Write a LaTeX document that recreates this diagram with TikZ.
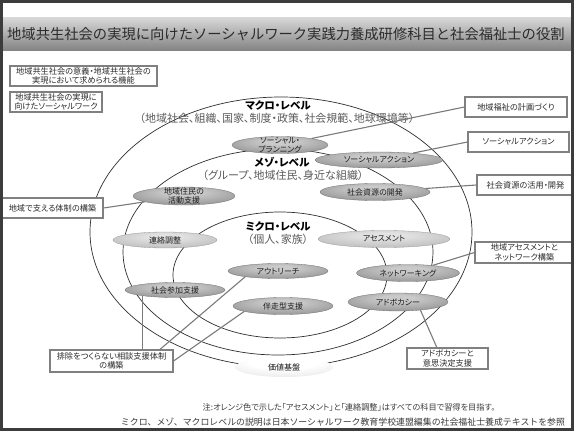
\documentclass[tikz,border=0pt]{standalone}
\usepackage{fontspec}
\setmainfont{Noto Sans CJK JP}
\newfontfamily\jpp[RawFeature=+palt]{Noto Sans CJK JP}
\usetikzlibrary{shapes.geometric,calc}
\definecolor{ringc}{HTML}{2E2E2E}
\definecolor{boxc}{HTML}{808080}
\definecolor{connc}{HTML}{7A7A7A}
\definecolor{txtc}{HTML}{2B2B2B}
\definecolor{ptxt}{HTML}{1A1A1A}
\definecolor{subc}{HTML}{5A5A5A}
\definecolor{notec}{HTML}{3A3A3A}
\definecolor{framec}{HTML}{3C3C3C}
\definecolor{dA}{HTML}{CACACA}
\definecolor{dB}{HTML}{9C9C9C}
\definecolor{dC}{HTML}{6C6C6C}
\definecolor{lA}{HTML}{E2E2E2}
\definecolor{lB}{HTML}{C2C2C2}
\definecolor{lC}{HTML}{989898}
\definecolor{wA}{HTML}{FFFFFF}
\definecolor{wB}{HTML}{E6E6E6}
\definecolor{wC}{HTML}{A8A8A8}
\pgfdeclareradialshading{pilldark}{\pgfpoint{0bp}{12bp}}{color(0bp)=(dA); color(8bp)=(dA); color(30bp)=(dB); color(50bp)=(dC); color(70bp)=(dC)}
\pgfdeclareradialshading{pilllight}{\pgfpoint{0bp}{12bp}}{color(0bp)=(lA); color(8bp)=(lA); color(30bp)=(lB); color(50bp)=(lC); color(70bp)=(lC)}
\pgfdeclareradialshading{pillwhite}{\pgfpoint{0bp}{18bp}}{color(0bp)=(wA); color(18bp)=(wA); color(40bp)=(wB); color(60bp)=(wC); color(75bp)=(wC)}
\tikzset{
 ring/.style={draw=ringc, line width=0.7pt},
 box/.style={draw=boxc, line width=1.1pt, fill=white, inner sep=0pt, align=center, text=txtc, font=\jpp\fontsize{8.2}{9.6}\selectfont},
 conn/.style={draw=connc, line width=1.1pt},
 pillD/.style={ellipse, inner sep=0pt, shading=pilldark, draw=dC, line width=0.3pt},
 pillL/.style={ellipse, inner sep=0pt, shading=pilllight, draw=lC, line width=0.3pt},
 pillW/.style={ellipse, inner sep=0pt, shading=pillwhite, draw=none},
 ptext/.style={inner sep=0pt, align=center, text=ptxt, font=\jpp\fontsize{8}{8.8}\selectfont},
 lvl/.style={inner sep=0pt, font=\jpp\bfseries\fontsize{10.5}{12}\selectfont, text=black},
 lvlsub/.style={inner sep=0pt, font=\jpp\fontsize{11}{13}\selectfont, text=subc},
 note/.style={inner sep=0pt, text=notec}
}
\newcommand\mypill[6]{\node[#1, minimum width=#4pt, minimum height=#5pt] (#2) at (#3) {};
 \node[ptext] (#2t) at (#2) {#6};}
\begin{document}
\begin{tikzpicture}[x=1pt,y=-1pt]
\useasboundingbox (0,0) rectangle (574,431);
% title bar
\shade[top color=white!85!black, middle color=white!68!black, bottom color=white!52!black] (3,17) rectangle (571,50);
\node[anchor=west, inner sep=0pt, text=txtc, font=\fontsize{14.3}{16}\selectfont] (title) at (7,34) {地域共生社会の実現に向けたソーシャルワーク実践力養成研修科目と社会福祉士の役割};
% rings
\draw[ring] (281,232) ellipse [x radius=191, y radius=135];
\draw[ring] (278,252) ellipse [x radius=155, y radius=103];
\draw[ring] (280,275) ellipse [x radius=107, y radius=63];
% level labels
\node[lvl] (macro) at (278,105) {マクロ・レベル};
\node[lvlsub] (macros) at (277,118) {（地域社会、組織、国家、制度・政策、社会規範、地球環境等）};
\node[lvl] (meso) at (282,162) {メゾ・レベル};
\node[lvlsub] (mesos) at (283,175) {（グループ、地域住民、身近な組織）};
\node[lvl] (micro) at (278,226) {ミクロ・レベル};
\node[lvlsub] (micros) at (278,239) {（個人、家族）};
% pills
\mypill{pillD}{sp}{280,145}{96}{17}{ソーシャル・\\プランニング}
\mypill{pillD}{sa}{379,160}{128}{16}{ソーシャルアクション}
\mypill{pillD}{sr}{375,192}{110}{17}{社会資源の開発}
\mypill{pillD}{cj}{184,196}{102}{18}{地域住民の\\活動支援}
\mypill{pillL}{rr}{165,240}{104}{16}{連絡調整}
\mypill{pillL}{as}{384,239}{132}{17}{アセスメント}
\mypill{pillD}{or}{278,271}{100}{15}{アウトリーチ}
\mypill{pillD}{sj}{175,290}{100}{15}{社会参加支援}
\mypill{pillD}{nw}{408,273}{103}{17}{ネットワーキング}
\mypill{pillD}{bs}{283,306}{100}{17}{伴走型支援}
\mypill{pillD}{ad}{398,302}{100}{18}{アドボカシー}
\mypill{pillW}{kk}{284,367}{98}{20}{価値基盤}
% boxes
\node[box, minimum width=147pt, minimum height=20pt] (b1) at (83.5,76) {地域共生社会の意義・地域共生社会の\\実現において求められる機能};
\node[box, minimum width=92pt, minimum height=20pt] (b2) at (56,102) {地域共生社会の実現に\\向けたソーシャルワーク};
\node[box, minimum width=102pt, minimum height=20pt] (b3) at (516,107) {地域福祉の計画づくり};
\node[box, minimum width=101pt, minimum height=20pt] (b4) at (518.5,142) {ソーシャルアクション};
\node[box, minimum width=97pt, minimum height=20pt] (b5) at (525.5,185) {社会資源の活用・開発};
\node[box, minimum width=99pt, minimum height=21pt] (b6) at (524.5,252.5) {地域アセスメントと\\ネットワーク構築};
\node[box, minimum width=101pt, minimum height=20pt] (b7) at (52.5,208) {地域で支える体制の構築};
\node[box, minimum width=123pt, minimum height=22pt] (b8) at (111.5,361) {排除をつくらない相談支援体制\\の構築};
\node[box, minimum width=81pt, minimum height=21pt] (b9) at (447.5,358.5) {アドボカシーと\\意思決定支援};
% connectors
\draw[conn] (b3.west) -- (sp);
\draw[conn] (b4.west) -- (sa);
\draw[conn] (b5.west) -- (sr);
\draw[conn] (b6.west) -- (nw);
\draw[conn] ($(b9.north west)!0.37!(b9.north east)$) -- (ad.-20);
\draw[conn] (b7.east) -- (cj);
\draw[conn] (sj.-170) -- (sj.-170 |- b8.north);
\draw[conn] ($(b8.north west)!0.89!(b8.north east)$) -- (or.-170);
\draw[conn] (b8.east) -- (bs.-172);
% notes
\node[note, font=\jpp\fontsize{8.2}{10}\selectfont] (n1) at (349,407) {注:オレンジ色で示した「アセスメント」と「連絡調整」はすべての科目で習得を目指す。};
\node[note, font=\fontsize{8.9}{10}\selectfont] (n2) at (343,422) {ミクロ、メゾ、マクロレベルの説明は日本ソーシャルワーク教育学校連盟編集の社会福祉士養成テキストを参照};
% frame
\draw[draw=framec, line width=3pt] (1.5,1.5) rectangle (572.5,429.5);
\end{tikzpicture}
\end{document}
